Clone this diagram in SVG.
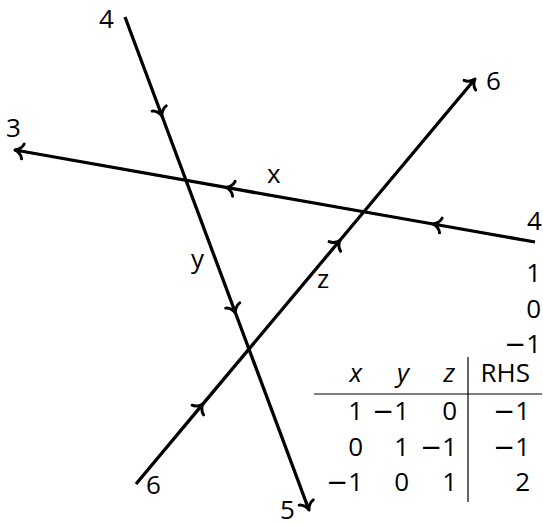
<svg xmlns="http://www.w3.org/2000/svg" width="543" height="525" viewBox="0 0 543 525">
<style>
text{font-family:"Open Sans","DejaVu Sans",sans-serif;font-size:26px;fill:#000}
.it{font-style:italic}
.m{font-family:"DejaVu Sans",sans-serif}
.ln{fill:none;stroke:#000;stroke-width:3.3;stroke-linecap:butt}
.r{text-anchor:end}
</style>
<defs>
<marker id="ah" markerUnits="userSpaceOnUse" orient="auto" overflow="visible" markerWidth="10" markerHeight="10" refX="0" refY="0">
<path d="M-8,-7.5 C-7,-3.5 -3,-0.6 0,0 C-3,0.6 -7,3.5 -8,7.5" fill="none" stroke="#000" stroke-width="3" stroke-linecap="round" stroke-linejoin="round"/>
</marker>
</defs>
<rect width="543" height="525" fill="#fff"/>
<g id="connectors">
<polyline id="line-y" class="ln" points="125,17 162,116 235.5,313 309,510" marker-mid="url(#ah)" marker-end="url(#ah)"/>
<polyline id="line-x" class="ln" points="535,242 433,224 226,187.4 15,150" marker-mid="url(#ah)" marker-end="url(#ah)"/>
<polyline id="line-z" class="ln" points="136,484 203,403.9 340,240.3 475,79" marker-mid="url(#ah)" marker-end="url(#ah)"/>
</g>
<g id="label-y-top"><text x="99" y="28">4</text></g>
<g id="label-x-left"><text x="6" y="137">3</text></g>
<g id="label-z-top"><text x="486" y="90">6</text></g>
<g id="label-x-right"><text x="527" y="230">4</text></g>
<g id="label-x"><text x="267" y="183">x</text></g>
<g id="label-y"><text x="191" y="268">y</text></g>
<g id="label-z"><text x="317" y="288">z</text></g>
<g id="label-z-bottom"><text x="146" y="494">6</text></g>
<g id="label-y-bottom"><text x="280" y="519">5</text></g>
<g id="weights">
<text class="r" x="541" y="282">1</text>
<text class="r" x="541" y="318">0</text>
<text class="r" x="541" y="353"><tspan class="m">−</tspan>1</text>
</g>
<g id="table">
<line x1="314" y1="394" x2="542" y2="394" stroke="#000" stroke-width="1.2"/>
<line x1="468" y1="357" x2="468" y2="502" stroke="#000" stroke-width="1.2"/>
<text class="r it" x="362" y="382">x</text>
<text class="r it" x="409" y="382">y</text>
<text class="r it" x="455" y="382">z</text>
<text class="r" x="530" y="382">RHS</text>
<text class="r" x="363" y="420">1</text>
<text class="r" x="409" y="420"><tspan class="m">−</tspan>1</text>
<text class="r" x="457" y="420">0</text>
<text class="r" x="530" y="420"><tspan class="m">−</tspan>1</text>
<text class="r" x="363" y="456">0</text>
<text class="r" x="409" y="456">1</text>
<text class="r" x="457" y="456"><tspan class="m">−</tspan>1</text>
<text class="r" x="530" y="456"><tspan class="m">−</tspan>1</text>
<text class="r" x="363" y="491"><tspan class="m">−</tspan>1</text>
<text class="r" x="409" y="491">0</text>
<text class="r" x="457" y="491">1</text>
<text class="r" x="530" y="491">2</text>
</g>
</svg>
